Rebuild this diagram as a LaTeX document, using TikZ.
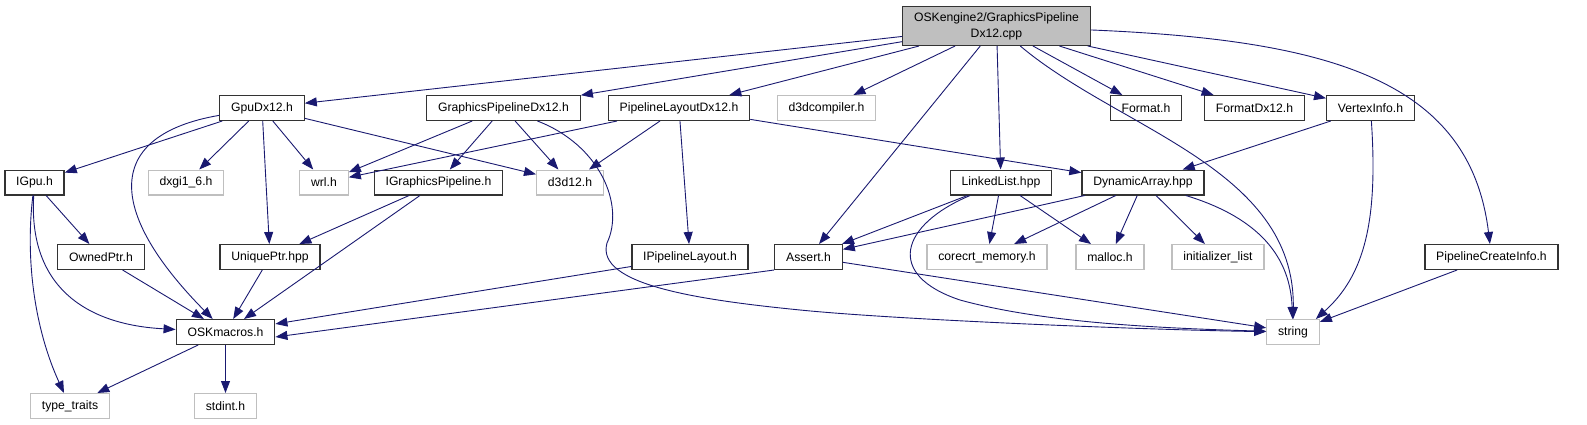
\documentclass[tikz,border=0pt]{standalone}
\usepackage{fontspec}
\setmainfont{Liberation Sans}
\usetikzlibrary{calc}
\usetikzlibrary{arrows.meta}
\definecolor{edgeblue}{HTML}{191970}
\definecolor{boxgrey}{HTML}{BFBFBF}

\begin{document}
\begin{tikzpicture}[x=1pt,y=-1pt,
  font=\fontsize{12.2}{16}\selectfont,
  hdr/.style={draw=black!80,line width=1.3pt,fill=white,inner xsep=11.3pt,inner ysep=0pt,minimum height=24.7pt},
  sys/.style={hdr,draw=boxgrey},
  dep/.style={edgeblue,line width=0.9pt,-{Triangle[length=12pt,width=9pt]}}]
\useasboundingbox (0,0) rectangle (1587,425);

\node[hdr,fill=boxgrey,align=center,minimum height=38.7pt] (main) at (996.5,26) {OSKengine2/GraphicsPipeline\\Dx12.cpp};

\node[hdr] (gpudx) at (262,108) {GpuDx12.h};
\node[hdr] (gpdx) at (503.5,108) {GraphicsPipelineDx12.h};
\node[hdr] (pldx) at (679,108) {PipelineLayoutDx12.h};
\node[sys] (d3dc) at (826.5,108) {d3dcompiler.h};
\node[hdr] (fmt) at (1146,108) {Format.h};
\node[hdr] (fmtdx) at (1254.5,108) {FormatDx12.h};
\node[hdr] (vinfo) at (1370.5,108) {VertexInfo.h};

\node[hdr] (igpu) at (34.5,182.5) {IGpu.h};
\node[sys] (dxgi) at (186,182.5) {dxgi1\_6.h};
\node[sys] (wrl) at (324,182.5) {wrl.h};
\node[hdr] (igp) at (438.5,182.5) {IGraphicsPipeline.h};
\node[sys] (d3d) at (570,182.5) {d3d12.h};
\node[hdr] (llist) at (1001,182.5) {LinkedList.hpp};
\node[hdr] (darr) at (1143,182.5) {DynamicArray.hpp};

\node[hdr] (owned) at (101,257) {OwnedPtr.h};
\node[hdr] (uniq) at (270,257) {UniquePtr.hpp};
\node[hdr] (ipl) at (690,257) {IPipelineLayout.h};
\node[hdr] (assert) at (808.5,257) {Assert.h};
\node[sys] (crt) at (987,257) {corecrt\_memory.h};
\node[sys] (malloc) at (1110,257) {malloc.h};
\node[sys] (initl) at (1218,257) {initializer\_list};
\node[hdr] (pci) at (1491.5,257) {PipelineCreateInfo.h};

\node[hdr] (osk) at (225.5,332) {OSKmacros.h};
\node[sys] (str) at (1293,332) {string};

\node[sys] (ttraits) at (70,406) {type\_traits};
\node[sys] (stdint) at (225.5,406) {stdint.h};

% from the .cpp
\draw[dep] (main) -- (gpudx);
\draw[dep] (main) -- (gpdx);
\draw[dep] (main) -- (pldx);
\draw[dep] (main) -- (d3dc);
\draw[dep] (main) -- (assert);
\draw[dep] (main) -- (llist);
\draw[dep] (main) .. controls (1120,130) and (1295,168) .. (str);
\draw[dep] (main) -- (fmt);
\draw[dep] (main) -- (fmtdx);
\draw[dep] (main) -- (vinfo);
\draw[dep] (main) .. controls (1330,40) and (1470,80) .. (pci);

% GpuDx12.h
\draw[dep] (gpudx) -- (igpu);
\draw[dep] (gpudx) -- (dxgi);
\draw[dep] (gpudx) -- (wrl);
\draw[dep] (gpudx) -- (uniq);
\draw[dep] (gpudx) -- (d3d);
\draw[dep] (gpudx) .. controls (105,135) and (105,210) .. (osk);

% GraphicsPipelineDx12.h
\draw[dep] (gpdx) -- (wrl);
\draw[dep] (gpdx) -- (igp);
\draw[dep] (gpdx) -- (d3d);
\draw[dep] (gpdx) .. controls (600,145) and (625,205) .. (607,243) .. controls (595,285) and (700,300) .. (800,310) .. controls (900,320) and (1150,330) .. (str);

% PipelineLayoutDx12.h
\draw[dep] (pldx) -- (wrl);
\draw[dep] (pldx) -- (d3d);
\draw[dep] (pldx) -- (ipl);
\draw[dep] (pldx) -- (darr);

% second row
\draw[dep] (igpu) -- (owned);
\draw[dep] (igpu) .. controls (28,290) and (90,325) .. (osk);
\draw[dep] (igpu) .. controls (25,260) and (35,330) .. (ttraits);
\draw[dep] (igp) -- (uniq);
\draw[dep] (igp) -- (osk);
\draw[dep] (llist) -- (assert);
\draw[dep] (llist) -- (crt);
\draw[dep] (llist) -- (malloc);
\draw[dep] (llist) .. controls (900,225) and (885,275) .. (960,300) .. controls (1040,322) and (1150,328) .. (str);
\draw[dep] (darr) -- (assert);
\draw[dep] (darr) -- (crt);
\draw[dep] (darr) -- (malloc);
\draw[dep] (darr) -- (initl);
\draw[dep] (darr) .. controls (1250,215) and (1290,250) .. (str);
\draw[dep] (vinfo) -- (darr);
\draw[dep] (vinfo) .. controls (1378,220) and (1365,275) .. ([xshift=-4pt]str.north east);

% third row
\draw[dep] (owned) -- (osk);
\draw[dep] (uniq) -- (osk);
\draw[dep] (ipl) -- (osk);
\draw[dep] (assert.south west) -- ($(osk.east)+(0,5)$);
\draw[dep] (assert) -- (str);
\draw[dep] (pci) -- (str);
\draw[dep] (osk) -- (ttraits);
\draw[dep] (osk) -- (stdint);
\end{tikzpicture}
\end{document}
